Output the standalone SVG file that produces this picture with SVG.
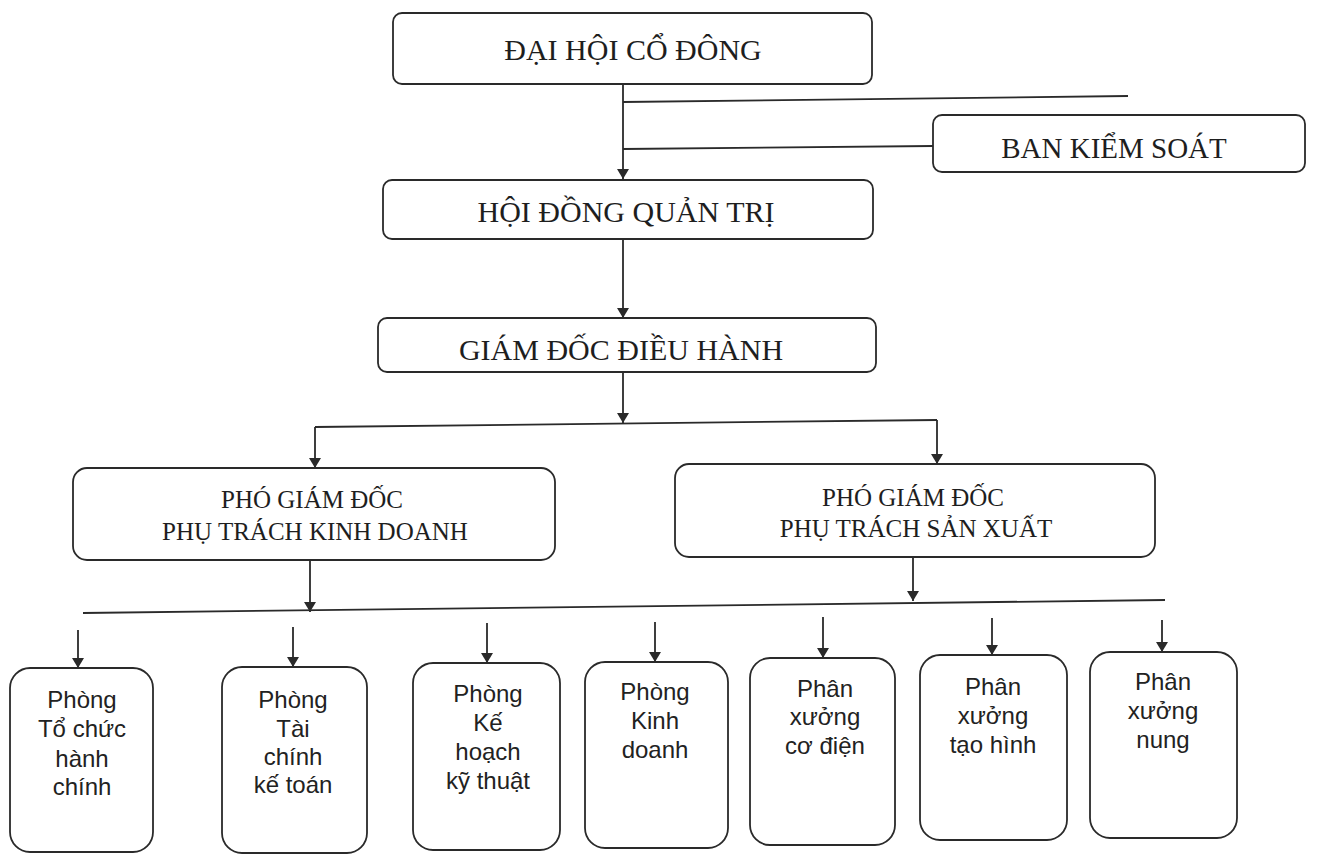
<svg xmlns="http://www.w3.org/2000/svg" width="1320" height="854" viewBox="0 0 1320 854">
<style>
.box{fill:#fff;stroke:#2a2a2a;stroke-width:1.8}
.ln{fill:none;stroke:#2a2a2a;stroke-width:1.8}
.ar{fill:none;stroke:#2a2a2a;stroke-width:1.8;marker-end:url(#ah)}
.t{font-family:"Liberation Serif","Times New Roman",serif;fill:#1e1e1e;text-anchor:middle}
.big{font-size:30px}
.mid{font-size:25px}
.s{font-family:"Liberation Sans",Arial,sans-serif;font-size:24px;fill:#222;text-anchor:middle}
</style>
<defs>
<marker id="ah" viewBox="0 0 10 12" refX="10" refY="6" markerWidth="10" markerHeight="12" markerUnits="userSpaceOnUse" orient="auto">
<path d="M0,0 L10,6 L0,12 Z" fill="#2a2a2a"/>
</marker>
</defs>
<rect width="1320" height="854" fill="#fff"/>
<g id="connectors">
<line class="ar" x1="623" y1="84" x2="623" y2="179"/>
<line class="ln" x1="623" y1="102" x2="1128" y2="96"/>
<line class="ln" x1="623" y1="149" x2="933" y2="146"/>
<line class="ar" x1="623" y1="239" x2="623" y2="318"/>
<line class="ar" x1="623" y1="372" x2="623" y2="423"/>
<polyline class="ln" points="315,427 937,420"/>
<line class="ar" x1="315" y1="427" x2="315" y2="468"/>
<line class="ar" x1="937" y1="420" x2="937" y2="464"/>
<line class="ar" x1="310" y1="560" x2="310" y2="612"/>
<line class="ar" x1="913" y1="557" x2="913" y2="601"/>
<line class="ln" x1="83" y1="613" x2="1165" y2="600"/>
<line class="ar" x1="78" y1="630" x2="78" y2="668"/>
<line class="ar" x1="293" y1="627" x2="293" y2="667"/>
<line class="ar" x1="487" y1="623" x2="487" y2="663"/>
<line class="ar" x1="655" y1="622" x2="655" y2="662"/>
<line class="ar" x1="823" y1="617" x2="823" y2="658"/>
<line class="ar" x1="992" y1="618" x2="992" y2="655"/>
<line class="ar" x1="1162" y1="620" x2="1162" y2="652"/>
</g>
<g id="dai-hoi-co-dong">
<rect class="box" x="393" y="13" width="479" height="71" rx="9"/>
<text class="t big" x="633" y="60">ĐẠI HỘI CỔ ĐÔNG</text>
</g>
<g id="ban-kiem-soat">
<rect class="box" x="933" y="115" width="372" height="57" rx="9"/>
<text class="t" font-size="29" x="1114" y="158">BAN KIỂM SOÁT</text>
</g>
<g id="hoi-dong-quan-tri">
<rect class="box" x="383" y="180" width="490" height="59" rx="9"/>
<text class="t big" x="626" y="222">HỘI ĐỒNG QUẢN TRỊ</text>
</g>
<g id="giam-doc-dieu-hanh">
<rect class="box" x="378" y="318" width="498" height="54" rx="9"/>
<text class="t big" x="621" y="360">GIÁM ĐỐC ĐIỀU HÀNH</text>
</g>
<g id="pgd-kinh-doanh">
<rect class="box" x="73" y="468" width="482" height="92" rx="14"/>
<text class="t mid" x="312" y="508">PHÓ GIÁM ĐỐC</text>
<text class="t mid" x="315" y="540">PHỤ TRÁCH KINH DOANH</text>
</g>
<g id="pgd-san-xuat">
<rect class="box" x="675" y="464" width="480" height="93" rx="14"/>
<text class="t mid" x="913" y="506">PHÓ GIÁM ĐỐC</text>
<text class="t mid" x="916" y="537">PHỤ TRÁCH SẢN XUẤT</text>
</g>
<g id="phong-to-chuc">
<rect class="box" x="10" y="668" width="143" height="184" rx="20"/>
<text class="s" x="82" y="708">Phòng</text>
<text class="s" x="82" y="737">Tổ chức</text>
<text class="s" x="82" y="767">hành</text>
<text class="s" x="82" y="795">chính</text>
</g>
<g id="phong-tai-chinh">
<rect class="box" x="222" y="667" width="145" height="186" rx="20"/>
<text class="s" x="293" y="708">Phòng</text>
<text class="s" x="293" y="737">Tài</text>
<text class="s" x="293" y="765">chính</text>
<text class="s" x="293" y="793">kế toán</text>
</g>
<g id="phong-ke-hoach">
<rect class="box" x="413" y="663" width="147" height="187" rx="20"/>
<text class="s" x="488" y="702">Phòng</text>
<text class="s" x="488" y="731">Kế</text>
<text class="s" x="488" y="760">hoạch</text>
<text class="s" x="488" y="789">kỹ thuật</text>
</g>
<g id="phong-kinh-doanh">
<rect class="box" x="585" y="662" width="143" height="186" rx="20"/>
<text class="s" x="655" y="700">Phòng</text>
<text class="s" x="655" y="729">Kinh</text>
<text class="s" x="655" y="758">doanh</text>
</g>
<g id="px-co-dien">
<rect class="box" x="750" y="658" width="145" height="187" rx="20"/>
<text class="s" x="825" y="697">Phân</text>
<text class="s" x="825" y="725">xưởng</text>
<text class="s" x="825" y="754">cơ điện</text>
</g>
<g id="px-tao-hinh">
<rect class="box" x="920" y="655" width="147" height="185" rx="20"/>
<text class="s" x="993" y="695">Phân</text>
<text class="s" x="993" y="724">xưởng</text>
<text class="s" x="993" y="753">tạo hình</text>
</g>
<g id="px-nung">
<rect class="box" x="1090" y="652" width="147" height="186" rx="20"/>
<text class="s" x="1163" y="690">Phân</text>
<text class="s" x="1163" y="719">xưởng</text>
<text class="s" x="1163" y="748">nung</text>
</g>
</svg>
